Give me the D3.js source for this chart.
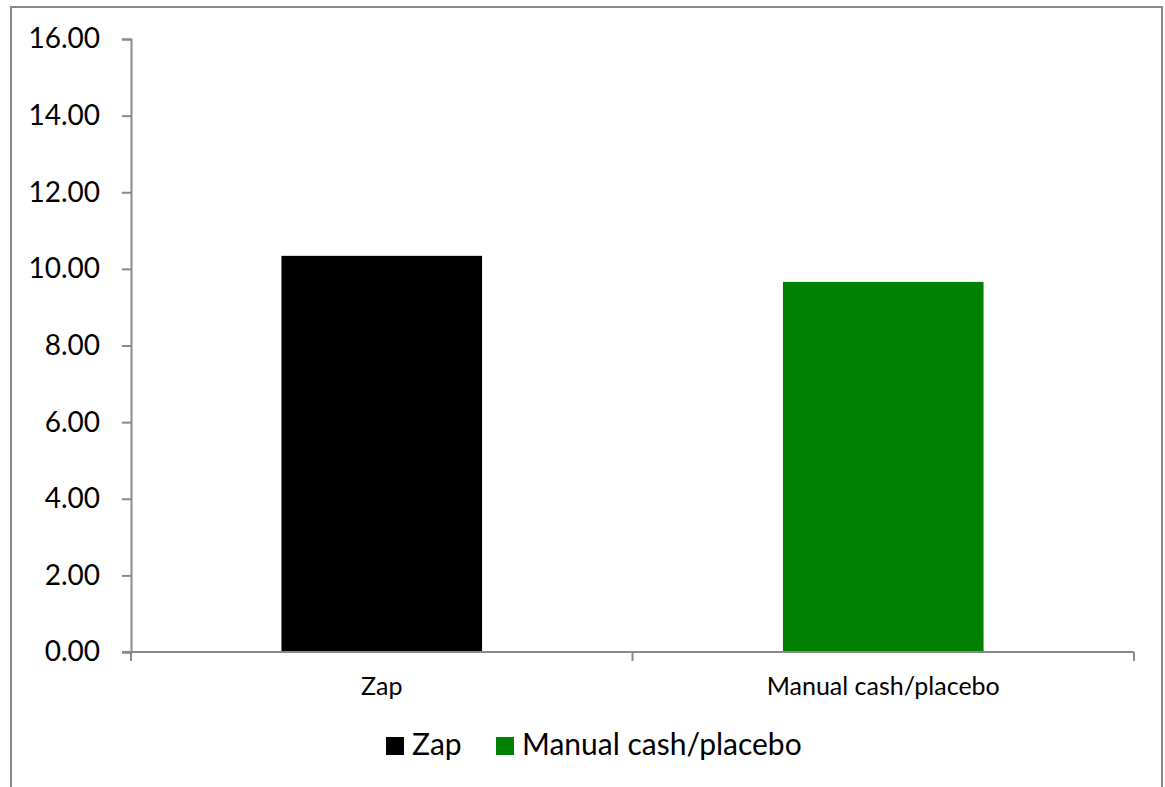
<!DOCTYPE html>
<html>
<head>
<meta charset="utf-8">
<script src="https://cdn.jsdelivr.net/npm/d3@7"></script>
<style>
  body { margin: 0; background: #fff; }
  text { font-family: Lato, "Open Sans", sans-serif; fill: #000; }
</style>
</head>
<body>
<div id="chart"></div>
<script>
var categories = ["Zap", "Manual cash/placebo"];
var values = [10.34, 9.66];
var colors = ["#000000", "#008000"];
var yTicks = [0, 2, 4, 6, 8, 10, 12, 14, 16];

var width = 1165,
  height = 787;

var svg = d3
  .select("#chart")
  .append("svg")
  .attr("width", width)
  .attr("height", height);

// chart frame, bottom edge runs off the picture
svg
  .append("rect")
  .attr("x", 11)
  .attr("y", 7)
  .attr("width", 1151)
  .attr("height", 820)
  .attr("fill", "none")
  .attr("stroke", "#898989")
  .attr("stroke-width", 2);

var plotLeft = 131,
  plotRight = 1134,
  plotTop = 39,
  plotBottom = 652;

var x = d3
  .scaleBand()
  .domain(categories)
  .range([plotLeft, plotRight])
  .paddingInner(0.6)
  .paddingOuter(0.3);

var y = d3.scaleLinear().domain([0, 16]).range([plotBottom, plotTop]);

svg
  .selectAll("rect.bar")
  .data(categories)
  .join("rect")
  .attr("class", "bar")
  .attr("x", function (d) { return x(d); })
  .attr("width", x.bandwidth())
  .attr("y", function (d, i) { return y(values[i]); })
  .attr("height", function (d, i) { return plotBottom - y(values[i]); })
  .attr("fill", function (d, i) { return colors[i]; });

// y axis
var yAxis = svg
  .append("g")
  .attr("transform", "translate(" + plotLeft + ",0)")
  .call(d3.axisLeft(y).tickValues(yTicks).tickSize(9).tickPadding(22).tickFormat(d3.format(".2f")));
yAxis.select(".domain").attr("stroke", "#898989").attr("stroke-width", 2);
yAxis.selectAll(".tick line").attr("stroke", "#898989").attr("stroke-width", 2);
yAxis.selectAll(".tick text").style("font-size", "28px").attr("fill", "#000");

// x axis: ticks at band boundaries
var xEdges = [plotLeft, (plotLeft + plotRight) / 2, plotRight];
var xAxisG = svg.append("g");
xAxisG
  .append("line")
  .attr("x1", plotLeft - 9)
  .attr("x2", plotRight)
  .attr("y1", plotBottom)
  .attr("y2", plotBottom)
  .attr("stroke", "#898989")
  .attr("stroke-width", 2);
xAxisG
  .selectAll("line.xt")
  .data(xEdges)
  .join("line")
  .attr("class", "xt")
  .attr("x1", function (d) { return d; })
  .attr("x2", function (d) { return d; })
  .attr("y1", plotBottom)
  .attr("y2", plotBottom + 9)
  .attr("stroke", "#898989")
  .attr("stroke-width", 2);
xAxisG
  .selectAll("text")
  .data(categories)
  .join("text")
  .attr("x", function (d) { return x(d) + x.bandwidth() / 2; })
  .attr("y", 695)
  .attr("text-anchor", "middle")
  .style("font-size", "25px")
  .text(function (d) { return d; });

// legend
var legendX = [386, 496];
var legend = svg
  .selectAll("g.legend")
  .data(categories)
  .join("g")
  .attr("class", "legend")
  .attr("transform", function (d, i) { return "translate(" + legendX[i] + ",737)"; });
legend
  .append("rect")
  .attr("width", 18)
  .attr("height", 18)
  .attr("fill", function (d, i) { return colors[i]; });
legend
  .append("text")
  .attr("x", 26)
  .attr("y", 18)
  .style("font-size", "30px")
  .text(function (d) { return d; });
</script>
</body>
</html>
